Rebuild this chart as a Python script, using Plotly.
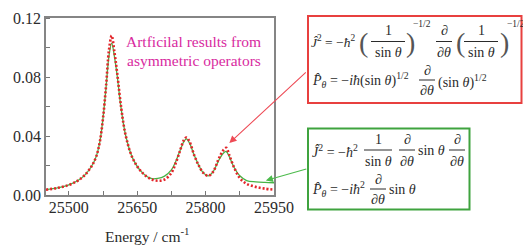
import plotly.graph_objects as go

# ---------------- data ----------------
energy = [25450, 25475, 25500, 25520, 25535, 25550, 25560, 25568, 25575, 25582,
          25588, 25594, 25600, 25606, 25615, 25625, 25640, 25660, 25680, 25695,
          25710, 25725, 25735, 25745, 25752, 25758, 25765, 25775, 25785, 25795,
          25806, 25817, 25828, 25838, 25845, 25852, 25862, 25875, 25890, 25910,
          25930, 25950]
symmetric = [0.0036, 0.0048, 0.0068, 0.0098, 0.0135, 0.0195, 0.026, 0.036, 0.052, 0.074,
             0.094, 0.103, 0.094, 0.081, 0.058, 0.040, 0.025, 0.0155, 0.0112, 0.0112,
             0.0128, 0.0170, 0.023, 0.031, 0.036, 0.038, 0.035, 0.027, 0.020, 0.015,
             0.013, 0.016, 0.023, 0.028, 0.0295, 0.026, 0.019, 0.013, 0.0098, 0.0089,
             0.0085, 0.0083]
asymmetric = [0.0036, 0.0048, 0.0068, 0.0098, 0.0135, 0.0195, 0.026, 0.036, 0.052, 0.075,
              0.098, 0.108, 0.097, 0.083, 0.059, 0.040, 0.025, 0.0155, 0.0108, 0.0097,
              0.0105, 0.0150, 0.022, 0.031, 0.037, 0.039, 0.036, 0.027, 0.020, 0.015,
              0.013, 0.016, 0.024, 0.030, 0.032, 0.027, 0.019, 0.0115, 0.0076, 0.0055,
              0.0043, 0.0036]
x_ticks = [25500, 25650, 25800, 25950]
y_ticks = [0.00, 0.04, 0.08, 0.12]

W, H = 523, 246
L, R, T, B = 46, 274, 18, 195

SERIF = "Liberation Serif"
TXT = "#2b2b2b"


def px(xp):
    return (xp - L) / (R - L)


def py(yp):
    return (B - yp) / (B - T)


fig = go.Figure()
fig.add_trace(go.Scatter(x=energy, y=symmetric, mode="lines", line_shape="spline",
                         line=dict(color="#46b446", width=1.3), hoverinfo="skip"))
fig.add_trace(go.Scatter(x=energy, y=asymmetric, mode="lines", line_shape="spline",
                         line=dict(color="#e3262b", width=2.6, dash="2px,2px"), hoverinfo="skip"))

annotations = []
shapes = []


def text(xp, yp, s, size=14, anchor="left", color=TXT):
    annotations.append(dict(x=px(xp), y=py(yp), xref="paper", yref="paper", text=s,
                            showarrow=False, xanchor=anchor, yanchor="middle",
                            font=dict(family=SERIF, size=size, color=color)))


def hline(x0, x1, yp, color=TXT):
    shapes.append(dict(type="line", xref="paper", yref="paper", x0=px(x0), x1=px(x1),
                       y0=py(yp), y1=py(yp), line=dict(color=color, width=1)))


def frac(cx, ybar, num, den, half, size=14, dy=11):
    text(cx, ybar - dy, num, size, "center")
    hline(cx - half, cx + half, ybar)
    text(cx, ybar + dy, den, size, "center")


# magenta note
text(124, 41, "Artficilal results from", 15.5, "left", "#d82aa0")
text(125, 60, "asymmetric operators", 15.5, "left", "#d82aa0")

# x-axis title
text(147, 235, "Energy / cm<sup>-1</sup>", 15.5, "center", TXT)

# ---- red box ----
shapes.append(dict(type="rect", xref="paper", yref="paper", x0=px(308), x1=px(521.5),
                   y0=py(103), y1=py(16), line=dict(color="#e8403f", width=2)))
text(309, 41.5, "<i>Ĵ</i><sup>2</sup> = −<i>ħ</i><sup>2</sup>", 13.5)
text(357, 42, "(", 28, "left", "#555")
frac(388, 41.5, "1", "sin <i>θ</i>", 17)
text(404, 42, ")", 28, "left", "#555")
text(411, 24, "−1/2", 9.5)
frac(444, 41.5, "∂", "∂<i>θ</i>", 8)
text(454, 42, "(", 28, "left", "#555")
frac(481, 41.5, "1", "sin <i>θ</i>", 17)
text(498, 42, ")", 28, "left", "#555")
text(505, 24, "−1/2", 9.5)

text(310, 80, "<i>P̂</i><sub><i>θ</i></sub> = −<i>iħ</i>(sin <i>θ</i>)<sup>1/2</sup>", 14)
frac(427, 80, "∂", "∂<i>θ</i>", 8, dy=10)
text(436, 81, "(sin <i>θ</i>)<sup>1/2</sup>", 14)

# ---- green box ----
shapes.append(dict(type="rect", xref="paper", yref="paper", x0=px(308), x1=px(469.5),
                   y0=py(209.5), y1=py(128.5), line=dict(color="#3fa33f", width=2)))
text(310, 151, "<i>Ĵ</i><sup>2</sup> = −<i>ħ</i><sup>2</sup>", 14)
frac(378, 150, "1", "sin <i>θ</i>", 14)
frac(407, 150, "∂", "∂<i>θ</i>", 8)
text(416, 150, "sin <i>θ</i>", 14)
frac(457, 150, "∂", "∂<i>θ</i>", 8)

text(310, 189, "<i>P̂</i><sub><i>θ</i></sub> = −<i>iħ</i><sup>2</sup>", 14)
frac(378, 189, "∂", "∂<i>θ</i>", 8, dy=10)
text(387, 189, "sin <i>θ</i>", 14)

# arrows
annotations.append(dict(x=25852, y=0.0352, xref="x", yref="y", ax=78, ay=-72,
                        axref="pixel", ayref="pixel", showarrow=True, arrowhead=2,
                        arrowsize=1.3, arrowwidth=1.1, arrowcolor="#ee4a55", text=""))
annotations.append(dict(x=25932, y=0.0098, xref="x", yref="y", ax=42, ay=-12,
                        axref="pixel", ayref="pixel", showarrow=True, arrowhead=2,
                        arrowsize=1.3, arrowwidth=1.1, arrowcolor="#4cbb4c", text=""))

fig.update_layout(
    width=W, height=H,
    margin=dict(l=L, r=W - R, t=T, b=H - B, pad=0, autoexpand=False),
    paper_bgcolor="white", plot_bgcolor="white",
    showlegend=False,
    annotations=annotations, shapes=shapes,
    font=dict(family=SERIF, color=TXT),
)
fig.update_xaxes(range=[25450, 25950], tickvals=x_ticks, ticktext=[str(v) for v in x_ticks],
                 automargin=False, ticklabelstandoff=-3,
                 ticks="inside", ticklen=4, tickcolor="#777", showgrid=False, zeroline=False,
                 showline=True, mirror=True, linecolor="#858585", linewidth=1.5,
                 tickfont=dict(family=SERIF, size=16, color=TXT),
                 minor=dict(dtick=75, tick0=25500, ticks="inside", ticklen=4, tickcolor="#777"))
fig.update_yaxes(range=[0, 0.12], tickvals=y_ticks, ticktext=["%.2f" % v for v in y_ticks],
                 automargin=False,
                 ticks="", showgrid=False, zeroline=False,
                 showline=True, mirror=True, linecolor="#858585", linewidth=1.5,
                 tickfont=dict(family=SERIF, size=16, color=TXT),
                 minor=dict(dtick=0.02, tick0=0, ticks="inside", ticklen=4, tickcolor="#777"))

fig.write_html("out.html", config={"displayModeBar": False},
               post_script="document.body.style.margin='0';document.body.style.padding='0';")
